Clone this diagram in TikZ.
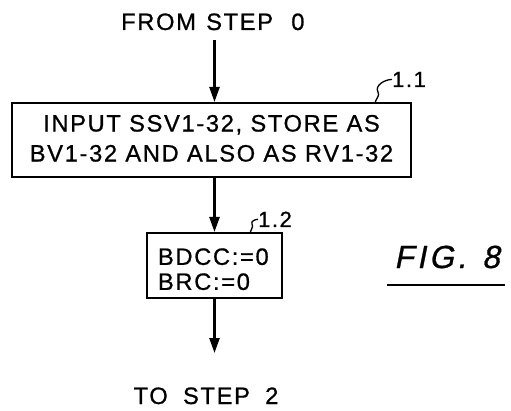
\documentclass[tikz,border=0pt]{standalone}
\usepackage{fontspec}
\newfontfamily\pat{Liberation Sans}[LetterSpace=7,FakeBold=0.8]
\newfontfamily\patfig{Liberation Sans}[LetterSpace=10,FakeSlant=0.2,FakeBold=0.8]
\usetikzlibrary{arrows.meta}
\begin{document}
\begin{tikzpicture}[x=1pt,y=1pt,
  txt/.style={font=\pat\fontsize{23.7}{30}\selectfont, inner sep=1pt},
  lbl/.style={font=\pat\fontsize{22}{24}\selectfont, inner sep=0pt},
  box/.style={draw, line width=2pt, txt},
  arr/.style={line width=2.4pt, -{Triangle[length=15pt,width=10pt]}},
  hook/.style={line width=1.3pt}]
\useasboundingbox (0,0) rectangle (511,410);
\node[txt, anchor=base west] (from) at (120,380) {FROM\hspace{2pt} STEP\hspace{10pt} 0};
\node[box, minimum width=399, minimum height=74, align=center] (box1) at (211.5,270)
  {INPUT SSV1-32, STORE AS\\BV1-32 AND ALSO AS RV1-32\rule[-3.5pt]{0pt}{0pt}};
\node[box, minimum height=65, text width=113, inner xsep=11, align=left,
  font=\pat\fontsize{23.7}{25}\selectfont] (box2) at (214.5,144.5)
  {\rule{0pt}{24pt}BDCC:=0\\BRC:=0};
\node[txt, anchor=base] (to) at (206,6) {TO\hspace{7pt} STEP\hspace{7pt} 2};
\coordinate (end) at (214.5,57);
\draw[arr] (box2.north |- 0,370) -- (box2.north |- box1.north);
\draw[arr] (box2.north |- box1.south) -- (box2.north);
\draw[arr] (box2.south) -- (end);
\node[lbl, anchor=base west] (l11) at (392,323) {1.1};
\node[lbl, anchor=base west] (l12) at (258,183) {1.2};
\coordinate (h1) at (375,307);
\coordinate (h2) at (250,177);
\draw[hook] (h1) to[out=80,in=-60] (378,318) to[out=120,in=180] (l11.west);
\draw[hook] (h2) to[out=80,in=-60] (252,186) to[out=120,in=180] (l12.west);
\node[font=\patfig\fontsize{32}{34}\selectfont, inner sep=0pt, anchor=base] (fig) at (447,142) {FIG.\hspace{16pt}8};
\draw[line width=2.2pt] (387,125) -- (505,125);
\end{tikzpicture}
\end{document}
